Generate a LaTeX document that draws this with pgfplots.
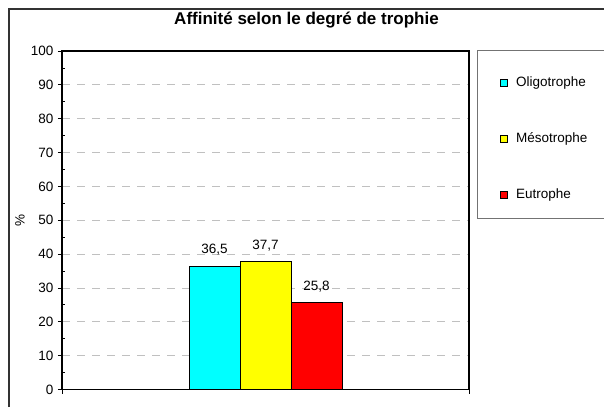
\documentclass[border=0pt]{standalone}
\usepackage{pgfplots}
\pgfplotsset{compat=1.18}
\usepackage{fontspec}
\setmainfont{Liberation Sans}

\definecolor{oligo}{RGB}{0,255,255}
\definecolor{meso}{RGB}{255,255,0}
\definecolor{eutro}{RGB}{255,0,0}
\definecolor{gridgray}{RGB}{192,192,192}

\pgfplotsset{
  sqlegend/.style={legend image code/.code={%
    \draw[##1,draw=black,line width=0.8pt] (0pt,-3.5pt) rectangle (7pt,3.5pt);}},
}

\begin{document}
\begin{tikzpicture}[x=1pt,y=1pt]
% cadre du graphique
\draw[line width=1.6pt, black!80] (9,0) -- (9,398) -- (604,398);
% cadre de la legende
\draw[line width=1pt, black!55] (477.5,356.3) rectangle (620,188.5);

\begin{axis}[
    at={(62pt,17.5pt)}, anchor=south west,
    scale only axis,
    width=407pt, height=338.5pt,
    xmin=0, xmax=1,
    ymin=0, ymax=100,
    xtick={0,1}, xticklabels={},
    ytick distance=10,
    minor y tick num=1,
    tick pos=left,
    tick align=outside,
    major tick length=4pt,
    minor tick length=3pt,
    minor y tick style={xshift=3pt},
    tick style={black, line width=0.8pt},
    axis line style={black, line width=1.2pt},
    ymajorgrids,
    major grid style={gridgray, line width=0.8pt, dash pattern=on 8pt off 7pt},
    /pgf/number format/assume math mode=true,
    yticklabel style={font=\fontsize{13.5}{16}\selectfont, xshift=-1pt},
    ylabel={\%},
    ylabel style={at={(axis description cs:-0.1032,0.5)}, anchor=center,
      font=\fontsize{13.5}{16}\selectfont},
    every axis title shift=0pt,
    title={Affinité selon le degré de trophie},
    title style={at={(axis description cs:0.6007,1.078)}, anchor=base,
      font=\bfseries\fontsize{17}{20}\selectfont},
    ybar=0pt,
    bar width=51pt,
    nodes near coords={\pgfmathprintnumber[fixed,fixed zerofill,precision=1,use comma]{\pgfplotspointmeta}},
    every node near coord/.append style={anchor=base, yshift=12pt,
      font=\fontsize{13.5}{16}\selectfont},
    legend style={draw=none, fill=none,
      at={(axis description cs:1.0762,0.9247)}, anchor=north west,
      inner sep=0pt, row sep=43.5pt,
      font=\fontsize{13.5}{16}\selectfont,
      nodes={inner sep=0pt, text height=9.5pt, text depth=3pt}},
    legend cell align=left,
    clip=false,
]
\addplot[fill=oligo, draw=black, line width=0.8pt, sqlegend] coordinates {(0.5,36.5)};
\addlegendentry{\hspace{8pt}Oligotrophe}
\addplot[fill=meso, draw=black, line width=0.8pt, sqlegend] coordinates {(0.5,37.7)};
\addlegendentry{\hspace{8pt}Mésotrophe}
\addplot[fill=eutro, draw=black, line width=0.8pt, sqlegend] coordinates {(0.5,25.8)};
\addlegendentry{\hspace{8pt}Eutrophe}
\end{axis}
\pgfresetboundingbox
\path[use as bounding box] (0,0) rectangle (604,407);
\end{tikzpicture}
\end{document}
